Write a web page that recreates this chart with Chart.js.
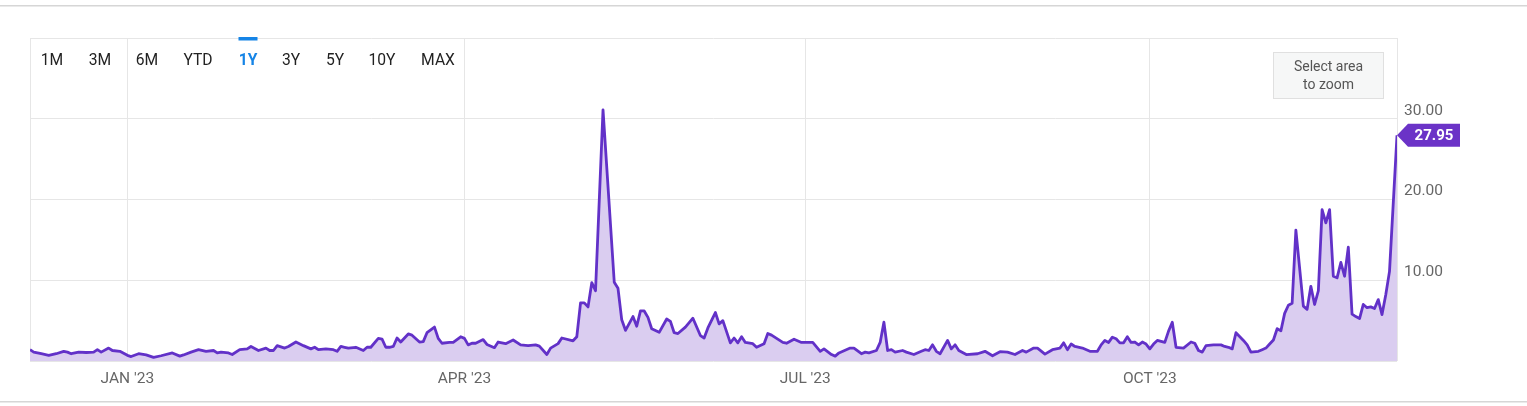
<!DOCTYPE html>
<html>
<head>
<meta charset="utf-8">
<script src="https://cdn.jsdelivr.net/npm/chart.js@4.4.1/dist/chart.umd.min.js"></script>
<style>
  html, body { margin: 0; padding: 0; background: #fff; }
  #wrap { position: relative; width: 1527px; height: 406px; }
</style>
</head>
<body>
<div id="wrap"><canvas id="areaChart"></canvas></div>
<script>
// days counted from 6 Dec 2022 (left edge of the 1Y window)
const dayOffsets = [
  0, 1, 3, 5, 7, 9, 10, 11, 13, 15, 17, 18, 19, 21, 22, 24, 26, 27, 29, 31,
  33, 35, 38, 40, 41, 43, 45, 47, 49, 50, 51, 53, 54, 56, 58, 59, 61, 63, 64, 65,
  66, 68, 69, 71, 73, 75, 76, 77, 79, 81, 82, 83, 84, 85, 87, 89, 90, 91, 93, 94,
  95, 96, 97, 98, 99, 101, 102, 104, 105, 106, 108, 109, 110, 112, 113, 115, 116, 117, 118, 119,
  121, 122, 124, 125, 127, 129, 131, 133, 135, 136, 138, 139, 141, 142, 145, 146, 147, 148, 149, 150,
  151, 153, 156, 157, 158, 159, 161, 162, 163, 164, 165, 166, 168, 170, 171, 172, 173, 175, 177, 179,
  180, 181, 183, 184, 185, 187, 188, 189, 190, 191, 193, 194, 196, 197, 198, 201, 202, 204, 206, 209,
  211, 212, 214, 215, 216, 219, 220, 222, 223, 224, 226, 227, 228, 229, 230, 231, 233, 234, 236, 238,
  239, 240, 241, 242, 243, 245, 246, 247, 248, 250, 253, 255, 257, 259, 261, 263, 265, 266, 268, 269,
  271, 273, 275, 276, 277, 278, 279, 281, 283, 285, 286, 287, 288, 289, 290, 291, 292, 293, 294, 295,
  296, 297, 298, 299, 300, 301, 303, 304, 305, 306, 308, 310, 311, 312, 313, 314, 316, 318, 319, 320,
  321, 322, 324, 325, 326, 328, 329, 330, 331, 332, 333, 334, 335, 336, 337, 338, 340, 341, 342, 343,
  344, 345, 346, 347, 348, 349, 350, 351, 352, 353, 354, 355, 356, 357, 358, 359, 360, 361, 362, 363,
  365
];

const values = [
  1.4, 1.1, 0.9, 0.7, 0.9, 1.2, 1.1, 0.9, 1.1, 1.05, 1.1, 1.4, 1.1, 1.6, 1.3, 1.2, 0.7, 0.55, 0.9, 0.75,
  0.45, 0.65, 1.0, 0.6, 0.75, 1.1, 1.4, 1.2, 1.3, 1.0, 1.1, 1.0, 0.8, 1.4, 1.5, 1.8, 1.3, 1.6, 1.3, 1.3,
  1.9, 1.6, 1.8, 2.35, 1.9, 1.5, 1.7, 1.4, 1.5, 1.4, 1.2, 1.8, 1.7, 1.6, 1.7, 1.3, 1.7, 1.7, 2.8, 2.7,
  1.7, 1.7, 1.8, 2.85, 2.35, 3.35, 3.2, 2.35, 2.4, 3.5, 4.2, 2.8, 2.2, 2.3, 2.3, 3.0, 2.8, 2.0, 2.2, 2.2,
  2.65, 2.05, 1.65, 2.35, 2.15, 2.6, 2.0, 1.9, 2.0, 1.85, 0.8, 1.6, 2.15, 2.85, 2.5, 3.0, 7.2, 7.2, 6.7, 9.7,
  8.7, 31.1, 9.75, 9.0, 5.1, 3.8, 5.5, 4.3, 6.2, 6.2, 5.4, 4.0, 3.55, 5.2, 4.9, 3.5, 3.4, 4.2, 5.3, 3.15,
  2.85, 4.1, 6.0, 4.6, 5.0, 2.25, 2.85, 2.25, 3.0, 2.3, 2.15, 1.7, 2.15, 3.4, 3.2, 2.3, 2.2, 2.7, 2.3, 2.3,
  1.2, 1.5, 0.8, 0.6, 1.0, 1.6, 1.6, 0.9, 1.1, 1.0, 1.3, 2.3, 4.8, 1.3, 1.4, 1.1, 1.3, 1.1, 0.8, 1.2,
  1.4, 1.3, 2.0, 1.2, 0.9, 2.55, 1.5, 2.0, 1.3, 0.8, 0.9, 1.2, 0.65, 1.15, 1.1, 0.8, 1.3, 1.1, 1.6, 1.6,
  0.85, 1.4, 1.6, 2.25, 1.4, 2.1, 1.8, 1.6, 1.2, 1.2, 2.0, 2.55, 2.3, 2.95, 2.75, 2.25, 2.25, 3.0, 2.3, 2.35,
  2.0, 2.35, 2.1, 1.5, 2.1, 2.55, 2.3, 3.7, 4.8, 1.7, 1.6, 2.35, 2.2, 1.3, 1.1, 1.9, 2.0, 2.0, 1.8, 1.7,
  1.5, 3.5, 2.55, 2.0, 1.1, 1.2, 1.4, 1.6, 2.1, 2.6, 4.0, 3.75, 5.9, 6.9, 7.15, 16.2, 6.8, 6.4, 9.25, 7.0,
  8.7, 18.75, 17.1, 18.75, 10.5, 10.3, 12.2, 10.5, 14.1, 5.8, 5.5, 5.25, 7.0, 6.6, 6.7, 6.5, 7.6, 5.75, 8.2, 11.1,
  27.95
];

const tickDays = [26, 116, 207, 299];
const tickLabels = ["JAN '23", "APR '23", "JUL '23", "OCT '23"];
const rangeButtons = ['1M', '3M', '6M', 'YTD', '1Y', '3Y', '5Y', '10Y', 'MAX'];
const activeRange = '1Y';

const purple = '#6231c8';
const gridColor = '#e6e6e6';

// page frame, range selector and zoom hint
const decorations = {
  id: 'decorations',
  beforeDraw(chart) {
    const c = chart.ctx;
    c.save();
    c.fillStyle = '#d6d6d6';
    c.fillRect(0, 5, 1527, 1.5);
    c.fillRect(0, 401, 1527, 1.5);
    c.restore();
  },
  afterDraw(chart) {
    const c = chart.ctx;
    c.save();
    // range buttons (narrow-ish type, squeezed a bit)
    const xs = [52, 100, 147, 198, 248, 291, 335, 382, 438];
    c.textAlign = 'center';
    c.textBaseline = 'middle';
    rangeButtons.forEach((b, i) => {
      const on = b === activeRange;
      c.save();
      c.translate(xs[i], 61);
      c.scale(0.92, 1);
      c.font = (on ? 'bold ' : '') + '17px Roboto';
      c.fillStyle = on ? '#1584e6' : '#222';
      c.fillText(b, 0, 0);
      c.restore();
      if (on) {
        c.fillStyle = '#1584e6';
        c.fillRect(xs[i] - 9.5, 37, 19, 3.5);
      }
    });
    // zoom box
    c.fillStyle = '#f6f7f7';
    c.fillRect(1273.5, 52.5, 110, 46);
    c.strokeStyle = '#e0e0e0';
    c.lineWidth = 1;
    c.strokeRect(1273.5, 52.5, 110, 46);
    c.fillStyle = '#555';
    c.font = '14px Roboto';
    c.fillText('Select area', 1328.5, 67);
    c.fillText('to zoom', 1328.5, 85);

    // last value badge
    const ys = chart.scales.y;
    const xsc = chart.scales.x;
    const last = values[values.length - 1];
    const px = xsc.getPixelForValue(dayOffsets[dayOffsets.length - 1]);
    const py = ys.getPixelForValue(last);
    c.fillStyle = '#6b33c7';
    c.beginPath();
    c.moveTo(px, py);
    c.lineTo(px + 11, py - 11.5);
    c.lineTo(px + 63, py - 11.5);
    c.lineTo(px + 63, py + 11.5);
    c.lineTo(px + 11, py + 11.5);
    c.closePath();
    c.fill();
    c.fillStyle = '#fff';
    c.font = 'bold 15px Roboto';
    c.fillText(last.toFixed(2), px + 37, py + 0.5);
    c.restore();
  }
};

const ctx = document.getElementById('areaChart').getContext('2d');
const myChart = new Chart(ctx, {
  type: 'line',
  data: {
    datasets: [{
      data: dayOffsets.map((d, i) => ({ x: d, y: values[i] })),
      borderColor: purple,
      backgroundColor: '#dacdf0',
      borderWidth: 2.8,
      borderJoinStyle: 'round',
      fill: 'origin',
      tension: 0,
      pointRadius: 0
    }]
  },
  plugins: [decorations],
  options: {
    responsive: true,
    maintainAspectRatio: false,
    animation: false,
    layout: { padding: { left: 30, top: 38, right: 0, bottom: 0 } },
    plugins: {
      legend: { display: false },
      tooltip: { enabled: false }
    },
    scales: {
      x: {
        type: 'linear',
        min: 0,
        max: 365,
        afterBuildTicks: (scale) => {
          scale.ticks = [0].concat(tickDays, [365]).map(v => ({ value: v }));
        },
        afterFit: (scale) => { scale.height = 45; },
        grid: { color: gridColor, drawTicks: false },
        border: { display: false },
        ticks: {
          padding: 9,
          color: '#666',
          font: { family: 'Roboto', size: 15.5 },
          maxRotation: 0,
          autoSkip: false,
          callback: (v) => {
            const i = tickDays.indexOf(v);
            return i >= 0 ? tickLabels[i] : '';
          }
        }
      },
      y: {
        position: 'right',
        min: 0,
        max: 40,
        afterFit: (scale) => { scale.width = 130; },
        grid: { color: gridColor, drawTicks: false },
        border: { display: false },
        ticks: {
          stepSize: 10,
          padding: 7,
          labelOffset: -8,
          color: '#666',
          font: { family: 'Roboto', size: 15.5 },
          callback: (v) => (v > 0 && v < 40) ? v.toFixed(2) : ''
        }
      }
    }
  }
});
</script>
</body>
</html>
